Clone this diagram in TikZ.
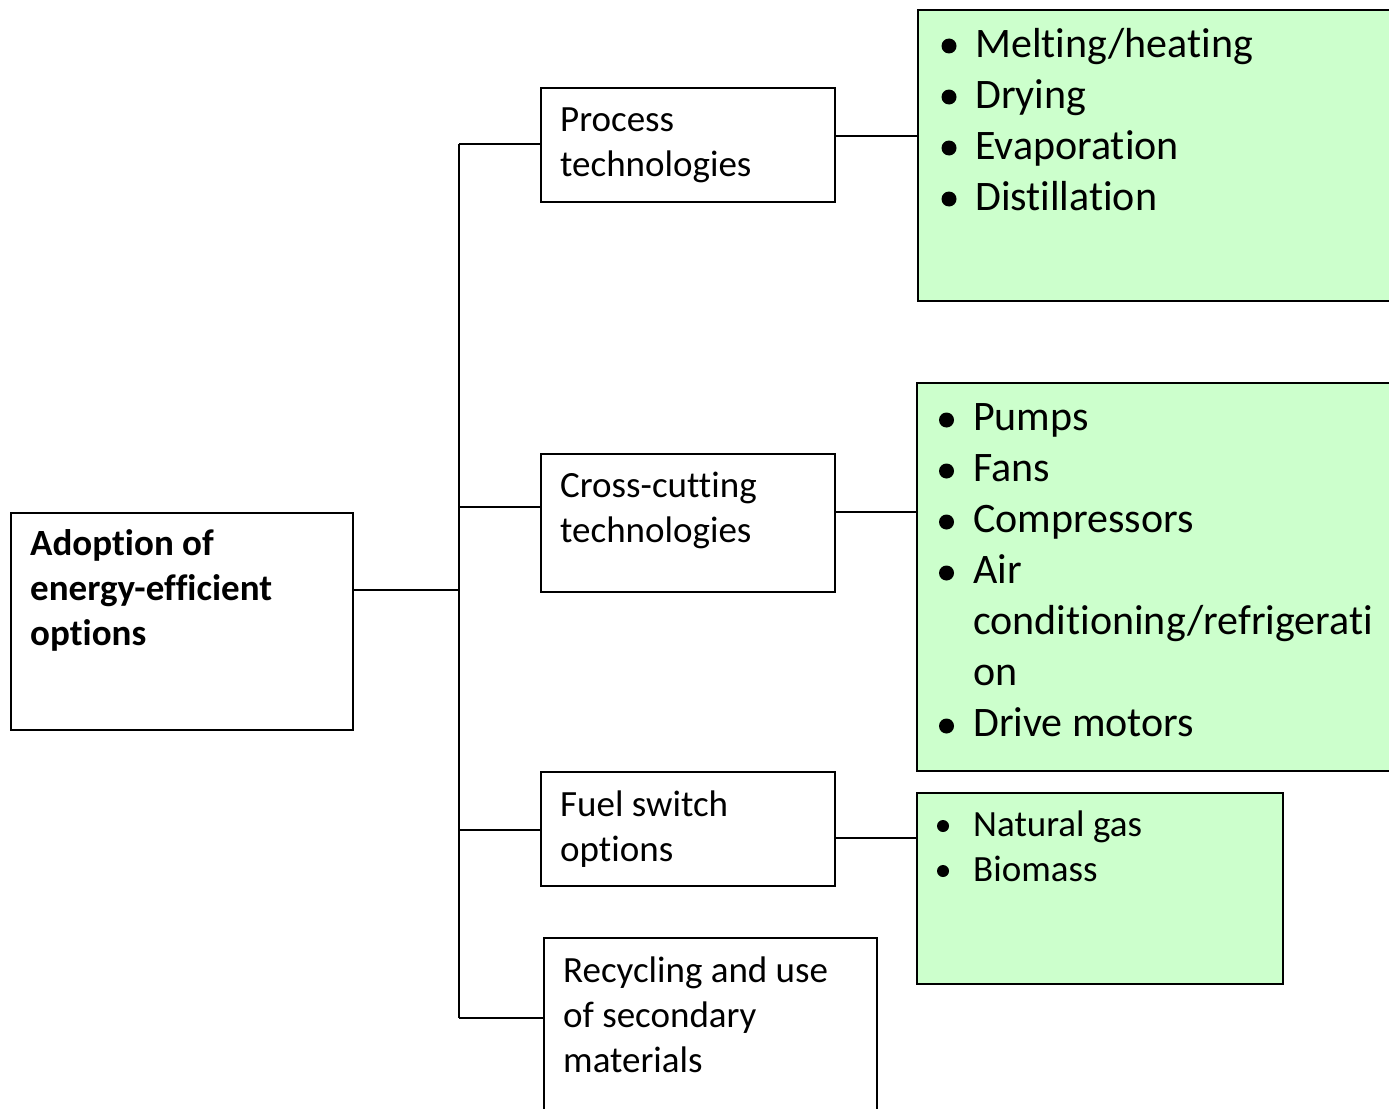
\documentclass[tikz,border=0pt]{standalone}
\usepackage{fontspec}
\setmainfont{Carlito}[Ligatures={NoCommon}]
\definecolor{lightgreen}{HTML}{CCFFCC}
\begin{document}
\begin{tikzpicture}[x=1pt,y=-1pt,
  box/.style={draw=black, line width=1.7pt, fill=white, inner sep=0pt, anchor=north west},
  greenbox/.style={box, fill=lightgreen},
  conn/.style={draw=black, line width=1.6pt},
  txt/.style={anchor=north west, inner sep=0pt, align=left, font=\fontsize{37}{45}\selectfont},
  bigtxt/.style={anchor=north west, inner sep=0pt, align=left, font=\fontsize{42}{51}\selectfont},
  bul/.style={circle, fill=black, inner sep=0pt, minimum size=15pt}
]
\useasboundingbox (0,0) rectangle (1389,1108);

% boxes
\node[box, minimum width=342pt, minimum height=217pt] (main) at (10,512) {};
\node[box, minimum width=294pt, minimum height=114pt] (proc) at (540,87) {};
\node[box, minimum width=294pt, minimum height=138pt] (cross) at (540,453) {};
\node[box, minimum width=294pt, minimum height=114pt] (fuel) at (540,771) {};
\node[box, minimum width=333pt, minimum height=190pt] (recy) at (543,937) {};
\node[greenbox, minimum width=490pt, minimum height=291pt] (g1) at (917,9) {};
\node[greenbox, minimum width=490pt, minimum height=388pt] (g2) at (916,382) {};
\node[greenbox, minimum width=366pt, minimum height=191pt] (g3) at (916,792) {};

% texts in boxes
\node[txt, font=\fontsize{37}{45}\selectfont\bfseries] (tmain) at (30,525) {\rule{0pt}{30pt}Adoption of\\energy-efficient\\options};
\node[txt] (tproc) at (560,101) {\rule{0pt}{30pt}Process\\technologies};
\node[txt] (tcross) at (560,467) {\rule{0pt}{30pt}Cross-cutting\\technologies};
\node[txt] (tfuel) at (560,786) {\rule{0pt}{30pt}Fuel switch\\options};
\node[txt] (trecy) at (563,952) {\rule{0pt}{30pt}Recycling and use\\of secondary\\materials};

% green lists
\node[bigtxt] (tg1) at (975,23) {\rule{0pt}{34pt}Melting/heating\\Drying\\Evaporation\\Distillation};
\node[bigtxt] (tg2) at (973,396) {\rule{0pt}{34pt}Pumps\\Fans\\Compressors\\Air\\conditioning/refrigerati\\on\\Drive motors};
\node[txt] (tg3) at (973,806) {\rule{0pt}{30pt}Natural gas\\Biomass};

% bullets
\foreach \y [count=\i] in {46,97,148,199} \node[bul] (b1\i) at (949,\y) {};
\foreach \y [count=\i] in {420,471,522,573,726} \node[bul] (b2\i) at (946.5,\y) {};
\foreach \y [count=\i] in {826,871} \node[bul, minimum size=12pt] (b3\i) at (943,\y) {};

% connectors
\coordinate (vt) at (459,144);
\coordinate (vb) at (459,1018);
\draw[conn] (vt) -- (vb);
\draw[conn] (main.east |- 0,590) -- (459,590);
\draw[conn] (vt) -- (proc.west |- vt);
\draw[conn] (459,507) -- (cross.west |- 0,507);
\draw[conn] (459,830) -- (fuel.west |- 0,830);
\draw[conn] (vb) -- (recy.west |- vb);
\draw[conn] (proc.east |- 0,136) -- (g1.west |- 0,136);
\draw[conn] (cross.east |- 0,512) -- (g2.west |- 0,512);
\draw[conn] (fuel.east |- 0,838) -- (g3.west |- 0,838);
\end{tikzpicture}
\end{document}
